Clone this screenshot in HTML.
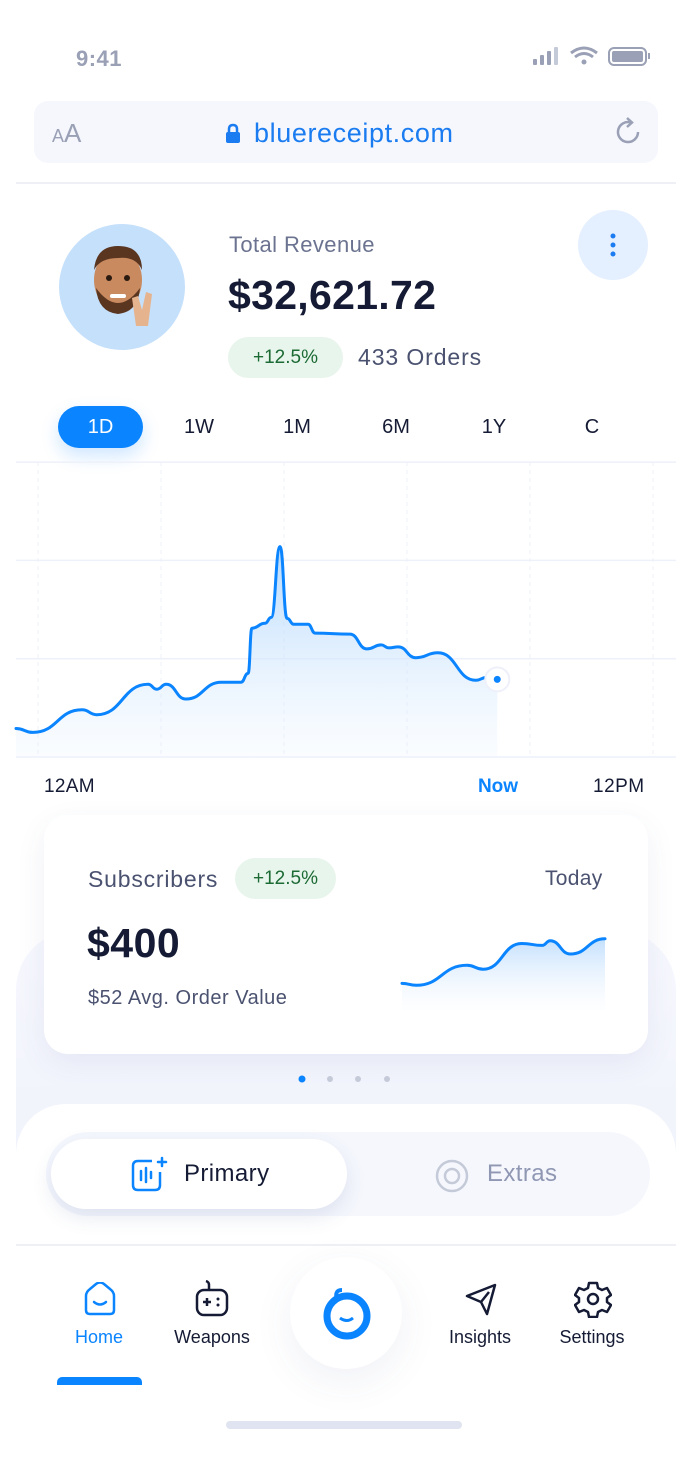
<!DOCTYPE html>
<html><head><meta charset="utf-8">
<style>
*{margin:0;padding:0;box-sizing:border-box}
body{width:690px;height:1458px;background:#fff;font-family:"Liberation Sans",sans-serif;position:relative;overflow:hidden}
.a{position:absolute}
.t{position:absolute;white-space:nowrap}
</style></head><body>
<div class="t" style="left:76px;top:46px;font-size:22px;color:#9aa0b5;font-weight:bold;letter-spacing:0.5px">9:41</div>
<svg class="a" style="left:530px;top:44px" width="125" height="26">
<rect x="3" y="15" width="4" height="6" rx="1" fill="#9aa0b5"/><rect x="10" y="11" width="4" height="10" rx="1" fill="#9aa0b5"/><rect x="17" y="7" width="4" height="14" rx="1" fill="#9aa0b5"/><rect x="24" y="3" width="4" height="18" rx="1" fill="#c5cad8"/>
<path d="M41 9 Q54 -1 67 9" stroke="#9aa0b5" stroke-width="3" fill="none"/><path d="M45 13 Q54 6 63 13" stroke="#9aa0b5" stroke-width="3" fill="none"/><circle cx="54" cy="18" r="2.5" fill="#9aa0b5"/>
<rect x="79" y="4" width="37" height="17" rx="5" fill="none" stroke="#9aa0b5" stroke-width="2"/><rect x="82" y="7" width="31" height="11" rx="2" fill="#9aa0b5"/><rect x="118" y="9" width="2" height="6" fill="#9aa0b5"/>
</svg>
<div class="a" style="left:34px;top:101px;width:624px;height:62px;background:#f5f7fd;border-radius:14px"></div>
<div class="t" style="left:52px;top:118px;color:#9aa0b5;font-size:26px"><span style="font-size:18px">A</span>A</div>
<svg class="a" style="left:224px;top:122px" width="18" height="24"><path d="M5 11 V7 Q5 3 9 3 Q13 3 13 7 V11" stroke="#1a7cf0" stroke-width="2.5" fill="none"/><rect x="2" y="10" width="14" height="11" rx="2" fill="#1a7cf0"/></svg>
<div class="t" style="left:254px;top:118px;color:#1a7cf0;font-size:27px;letter-spacing:0.6px">bluereceipt.com</div>
<svg class="a" style="left:614px;top:117px" width="30" height="30"><path d="M24 15 A10 10 0 1 1 17 5.5" stroke="#9aa0b5" stroke-width="2.5" fill="none"/><path d="M13 1 L18 5.5 L13 10" stroke="#9aa0b5" stroke-width="2.5" fill="none"/></svg>
<div class="a" style="left:16px;top:182px;width:660px;height:2px;background:#eef0f6"></div>

<div class="a" style="left:59px;top:224px;width:126px;height:126px;border-radius:50%;background:#c5e0fb"></div>
<svg class="a" style="left:84px;top:240px" width="80" height="90">
<ellipse cx="34" cy="40" rx="24" ry="30" fill="#c98a60"/><path d="M10 30 Q12 6 34 6 Q58 6 58 30 Q52 16 34 18 Q16 18 10 30Z" fill="#5a3520"/>
<path d="M12 48 Q34 78 56 48 Q54 72 34 74 Q14 72 12 48Z" fill="#5a3520"/><circle cx="25" cy="38" r="3" fill="#2a1a10"/><circle cx="43" cy="38" r="3" fill="#2a1a10"/><rect x="26" y="54" width="16" height="4" rx="2" fill="#fff"/>
<path d="M52 86 L48 58 L54 56 L58 70 L62 52 L68 54 L64 86Z" fill="#e5b48f"/>
</svg>
<div class="t" style="left:229px;top:232px;font-size:22px;color:#6b7390;letter-spacing:0.4px">Total Revenue</div>
<div class="t" style="left:228px;top:272px;font-size:41px;font-weight:bold;color:#151b34;letter-spacing:0.3px">$32,621.72</div>
<div class="t" style="left:228px;top:337px;width:115px;height:41px;border-radius:21px;background:#e8f5ec;color:#1c6a34;font-size:19px;text-align:center;line-height:41px">+12.5%</div>
<div class="t" style="left:358px;top:344px;font-size:23px;color:#4a5270;letter-spacing:0.9px">433 Orders</div>
<div class="a" style="left:578px;top:210px;width:70px;height:70px;border-radius:50%;background:#e4efff"></div>
<svg class="a" style="left:608px;top:232px" width="10" height="28"><circle cx="5" cy="4" r="2.5" fill="#1a7cf0"/><circle cx="5" cy="13" r="2.5" fill="#1a7cf0"/><circle cx="5" cy="22" r="2.5" fill="#1a7cf0"/></svg>

<div class="a" style="left:58px;top:406px;width:85px;height:42px;border-radius:21px;background:#0a84ff;box-shadow:0 8px 18px rgba(10,132,255,0.2);color:#fff;font-size:20px;text-align:center;line-height:42px">1D</div>
<div class="t" style="left:169px;top:416px;width:60px;text-align:center;font-size:20px;color:#151b34">1W</div>
<div class="t" style="left:267px;top:416px;width:60px;text-align:center;font-size:20px;color:#151b34">1M</div>
<div class="t" style="left:366px;top:416px;width:60px;text-align:center;font-size:20px;color:#151b34">6M</div>
<div class="t" style="left:464px;top:416px;width:60px;text-align:center;font-size:20px;color:#151b34">1Y</div>
<div class="t" style="left:562px;top:416px;width:60px;text-align:center;font-size:20px;color:#151b34">C</div>

<svg class="a" id="main" style="left:0;top:450px" width="690" height="320"></svg>
<div class="t" style="left:44px;top:776px;font-size:19px;color:#151b34;letter-spacing:0.3px">12AM</div>
<div class="t" style="left:468px;top:776px;width:60px;text-align:center;font-size:19px;color:#0a84ff;font-weight:bold">Now</div>
<div class="t" style="left:593px;top:776px;font-size:19px;color:#151b34;letter-spacing:0.5px">12PM</div>

<div class="a" style="left:16px;top:930px;width:660px;height:320px;border-radius:60px 60px 0 0;background:linear-gradient(#f7f8fe,#eef1fb)"></div>
<div class="a" style="left:44px;top:815px;width:604px;height:239px;border-radius:24px;background:#fff;box-shadow:0 10px 30px rgba(60,80,140,0.08)"></div>
<div class="t" style="left:88px;top:866px;font-size:23px;color:#4a5270;letter-spacing:0.8px">Subscribers</div>
<div class="t" style="left:235px;top:858px;width:101px;height:41px;border-radius:21px;background:#e8f5ec;color:#1c6a34;font-size:19px;text-align:center;line-height:41px">+12.5%</div>
<div class="t" style="left:545px;top:867px;font-size:21px;color:#4a5270;letter-spacing:0.3px">Today</div>
<div class="t" style="left:87px;top:920px;font-size:41px;font-weight:bold;color:#151b34;letter-spacing:0.5px">$400</div>
<div class="t" style="left:88px;top:987px;font-size:20px;color:#4a5270;letter-spacing:0.5px">$52 Avg. Order Value</div>
<svg class="a" id="mini" style="left:380px;top:900px" width="240" height="120"></svg>
<svg class="a" style="left:290px;top:1072px" width="110" height="14"><circle cx="12" cy="7" r="3.5" fill="#0a84ff"/><circle cx="40" cy="7" r="3" fill="#c5cad8"/><circle cx="68" cy="7" r="3" fill="#c5cad8"/><circle cx="97" cy="7" r="3" fill="#c5cad8"/></svg>

<div class="a" style="left:16px;top:1104px;width:660px;height:354px;border-radius:50px 50px 0 0;background:#fff"></div>
<div class="a" style="left:46px;top:1132px;width:604px;height:84px;border-radius:42px;background:#f5f7fd"></div>
<div class="a" style="left:51px;top:1139px;width:296px;height:70px;border-radius:35px;background:#fff;box-shadow:0 8px 20px rgba(60,80,140,0.12)"></div>
<svg class="a" style="left:130px;top:1156px" width="40" height="40"><path d="M22 5 H8 Q3 5 3 10 V29 Q3 34 8 34 H25 Q30 34 30 29 V16" stroke="#0a84ff" stroke-width="2.5" fill="none"/><path d="M11 15v9M16 12v14M21 16v6M32 2v8M28 6h8" stroke="#0a84ff" stroke-width="2.5" stroke-linecap="round"/></svg>
<div class="t" style="left:184px;top:1160px;font-size:24px;color:#151b34;letter-spacing:0.4px">Primary</div>
<svg class="a" style="left:433px;top:1156px" width="40" height="40"><circle cx="19" cy="20" r="15" stroke="#c5cad8" stroke-width="2.5" fill="none"/><circle cx="19" cy="20" r="7" stroke="#c5cad8" stroke-width="2.5" fill="none"/></svg>
<div class="t" style="left:487px;top:1160px;font-size:24px;color:#8f97b3;letter-spacing:0.4px">Extras</div>
<div class="a" style="left:16px;top:1244px;width:660px;height:2px;background:#eef0f6"></div>

<svg class="a" style="left:82px;top:1282px" width="36" height="36"><path d="M4 14 Q4 10 8 7 L14 2 Q18 -1 22 2 L28 7 Q32 10 32 14 V28 Q32 32 28 32 H8 Q4 32 4 28Z" stroke="#0a84ff" stroke-width="2.5" fill="none"/><path d="M12 20 Q18 25 24 20" stroke="#0a84ff" stroke-width="2.5" fill="none" stroke-linecap="round"/></svg>
<div class="t" style="left:59px;top:1327px;width:80px;text-align:center;font-size:18px;color:#0a84ff">Home</div>
<svg class="a" style="left:194px;top:1280px" width="36" height="38"><rect x="3" y="10" width="30" height="25" rx="7" stroke="#151b34" stroke-width="2.5" fill="none"/><path d="M15 10 V5 Q15 2 12 1" stroke="#151b34" stroke-width="2.5" fill="none"/><path d="M9 22h8M13 18v8" stroke="#151b34" stroke-width="2.5"/><circle cx="24" cy="19" r="1.5" fill="#151b34"/><circle cx="24" cy="25" r="1.5" fill="#151b34"/></svg>
<div class="t" style="left:162px;top:1327px;width:100px;text-align:center;font-size:18px;color:#151b34">Weapons</div>
<div class="a" style="left:290px;top:1257px;width:112px;height:112px;border-radius:50%;background:#fff;box-shadow:0 12px 40px rgba(60,80,140,0.08)"></div>
<svg class="a" style="left:320px;top:1286px" width="54" height="56"><ellipse cx="27" cy="30" rx="20" ry="20" stroke="#0a84ff" stroke-width="7" fill="none"/><path d="M17 14 Q14 4 22 4" stroke="#0a84ff" stroke-width="4" fill="none"/><path d="M20 32 Q27 37 33 32" stroke="#0a84ff" stroke-width="3" fill="none"/></svg>
<svg class="a" style="left:463px;top:1282px" width="36" height="36"><path d="M4 14 L32 3 L24 32 L18 20Z M18 20 L26 10" stroke="#151b34" stroke-width="2.5" fill="none" stroke-linejoin="round"/></svg>
<div class="t" style="left:430px;top:1327px;width:100px;text-align:center;font-size:18px;color:#151b34">Insights</div>
<svg class="a" style="left:574px;top:1280px" width="38" height="38"><path d="M15 3h8l1 5 4 2 5-2 4 7-4 3v4l4 3-4 7-5-2-4 2-1 5h-8l-1-5-4-2-5 2-4-7 4-3v-4l-4-3 4-7 5 2 4-2z" stroke="#151b34" stroke-width="2.5" fill="none" stroke-linejoin="round"/><circle cx="19" cy="19" r="5" stroke="#151b34" stroke-width="2.5" fill="none"/></svg>
<div class="t" style="left:542px;top:1327px;width:100px;text-align:center;font-size:18px;color:#151b34">Settings</div>
<div class="a" style="left:57px;top:1377px;width:85px;height:8px;border-radius:5px 5px 0 0;background:#0a84ff"></div>
<div class="a" style="left:226px;top:1421px;width:236px;height:8px;border-radius:4px;background:#e0e4f0"></div>

<script>
const hours = [0,0.31,1.2,1.47,2.4,2.56,2.73,3.09,3.73,4.09,4.22,4.29,4.53,4.64,4.8,4.93,5.05,5.31,5.44,6.07,6.38,6.64,6.78,6.95,7.27,7.67,8.36,8.56,8.75];
const revenue = [29,25,48,43,74,69,74,59,76,76,85,131,136,142,214,141,135,135,126,125,110,114,111,112,101,106,78,81,79];
const yTicks = [0,100,200,300];
const miniIdx = [0,1,2,3,4,5,6,7,8];
const miniT = [0,0.07,0.32,0.4,0.59,0.69,0.73,0.83,1];
const miniVals = [28,26,47,43,70,68,73,59,75];

const NS='http://www.w3.org/2000/svg';
function mk(p,tag,at){const e=document.createElementNS(NS,tag);for(const k in at)e.setAttribute(k,at[k]);p.appendChild(e);return e;}
function smooth(P){let s='M'+P[0][0]+','+P[0][1];for(let i=1;i<P.length;i++){const a=P[i-1],b=P[i];const mx=(a[0]+b[0])/2;s+=' C'+mx+','+a[1]+' '+mx+','+b[1]+' '+b[0]+','+b[1];}return s;}
const main=document.getElementById('main');
const X=h=>16+h*55, Y=v=>307-v*0.983;
const d=mk(main,'defs',{});
const g=mk(d,'linearGradient',{id:'gf',x1:0,y1:0,x2:0,y2:1});
mk(g,'stop',{offset:0,'stop-color':'#a9d2fb','stop-opacity':0.85});
mk(g,'stop',{offset:1,'stop-color':'#e6f2ff','stop-opacity':0.2});
[38,161,284,407,530,653].forEach(x=>{const l=mk(main,'line',{x1:x,x2:x,y1:12,y2:307,stroke:'#eef0f8','stroke-dasharray':'4 4'});});
yTicks.forEach(v=>{const l=mk(main,'line',{x1:16,x2:676,y1:Y(v),y2:Y(v),stroke:'#eef1fa','stroke-width':1.5});});
const P=hours.map((h,i)=>[+X(h).toFixed(1),+Y(revenue[i]).toFixed(1)]);
const lp=smooth(P);
const area=mk(main,'path',{d:lp+' L'+X(hours[hours.length-1])+','+Y(0)+' L'+X(hours[0])+','+Y(0)+'Z',fill:'url(#gf)'});


const line=mk(main,'path',{d:lp,fill:'none',stroke:'#0a84ff','stroke-width':3,'stroke-linejoin':'round','stroke-linecap':'round'});


const li=hours.length-1;
const c1=mk(main,'circle',{cx:X(hours[li]),cy:Y(revenue[li]),r:12,fill:'#fff',stroke:'#eef0fa','stroke-width':2});


mk(main,'circle',{cx:X(hours[li]),cy:Y(revenue[li]),r:3.5,fill:'#0a84ff'});
const mini=document.getElementById('mini');
const MX=t=>22+t*203, MY=v=>110-v*0.95;
const d2=mk(mini,'defs',{});
const g2=mk(d2,'linearGradient',{id:'gm',x1:0,y1:0,x2:0,y2:1});
mk(g2,'stop',{offset:0,'stop-color':'#b5d8fc','stop-opacity':0.8});
mk(g2,'stop',{offset:1,'stop-color':'#eef6ff','stop-opacity':0.1});
const MP=miniIdx.map(i=>[+MX(miniT[i]).toFixed(1),+MY(miniVals[i]).toFixed(1)]);
const mlp=smooth(MP);
const ma=mk(mini,'path',{d:mlp+' L'+MX(1)+','+MY(0)+' L'+MX(0)+','+MY(0)+'Z',fill:'url(#gm)'});


const ml=mk(mini,'path',{d:mlp,fill:'none',stroke:'#0a84ff','stroke-width':3,'stroke-linejoin':'round','stroke-linecap':'round'});


</script>
</body></html>
